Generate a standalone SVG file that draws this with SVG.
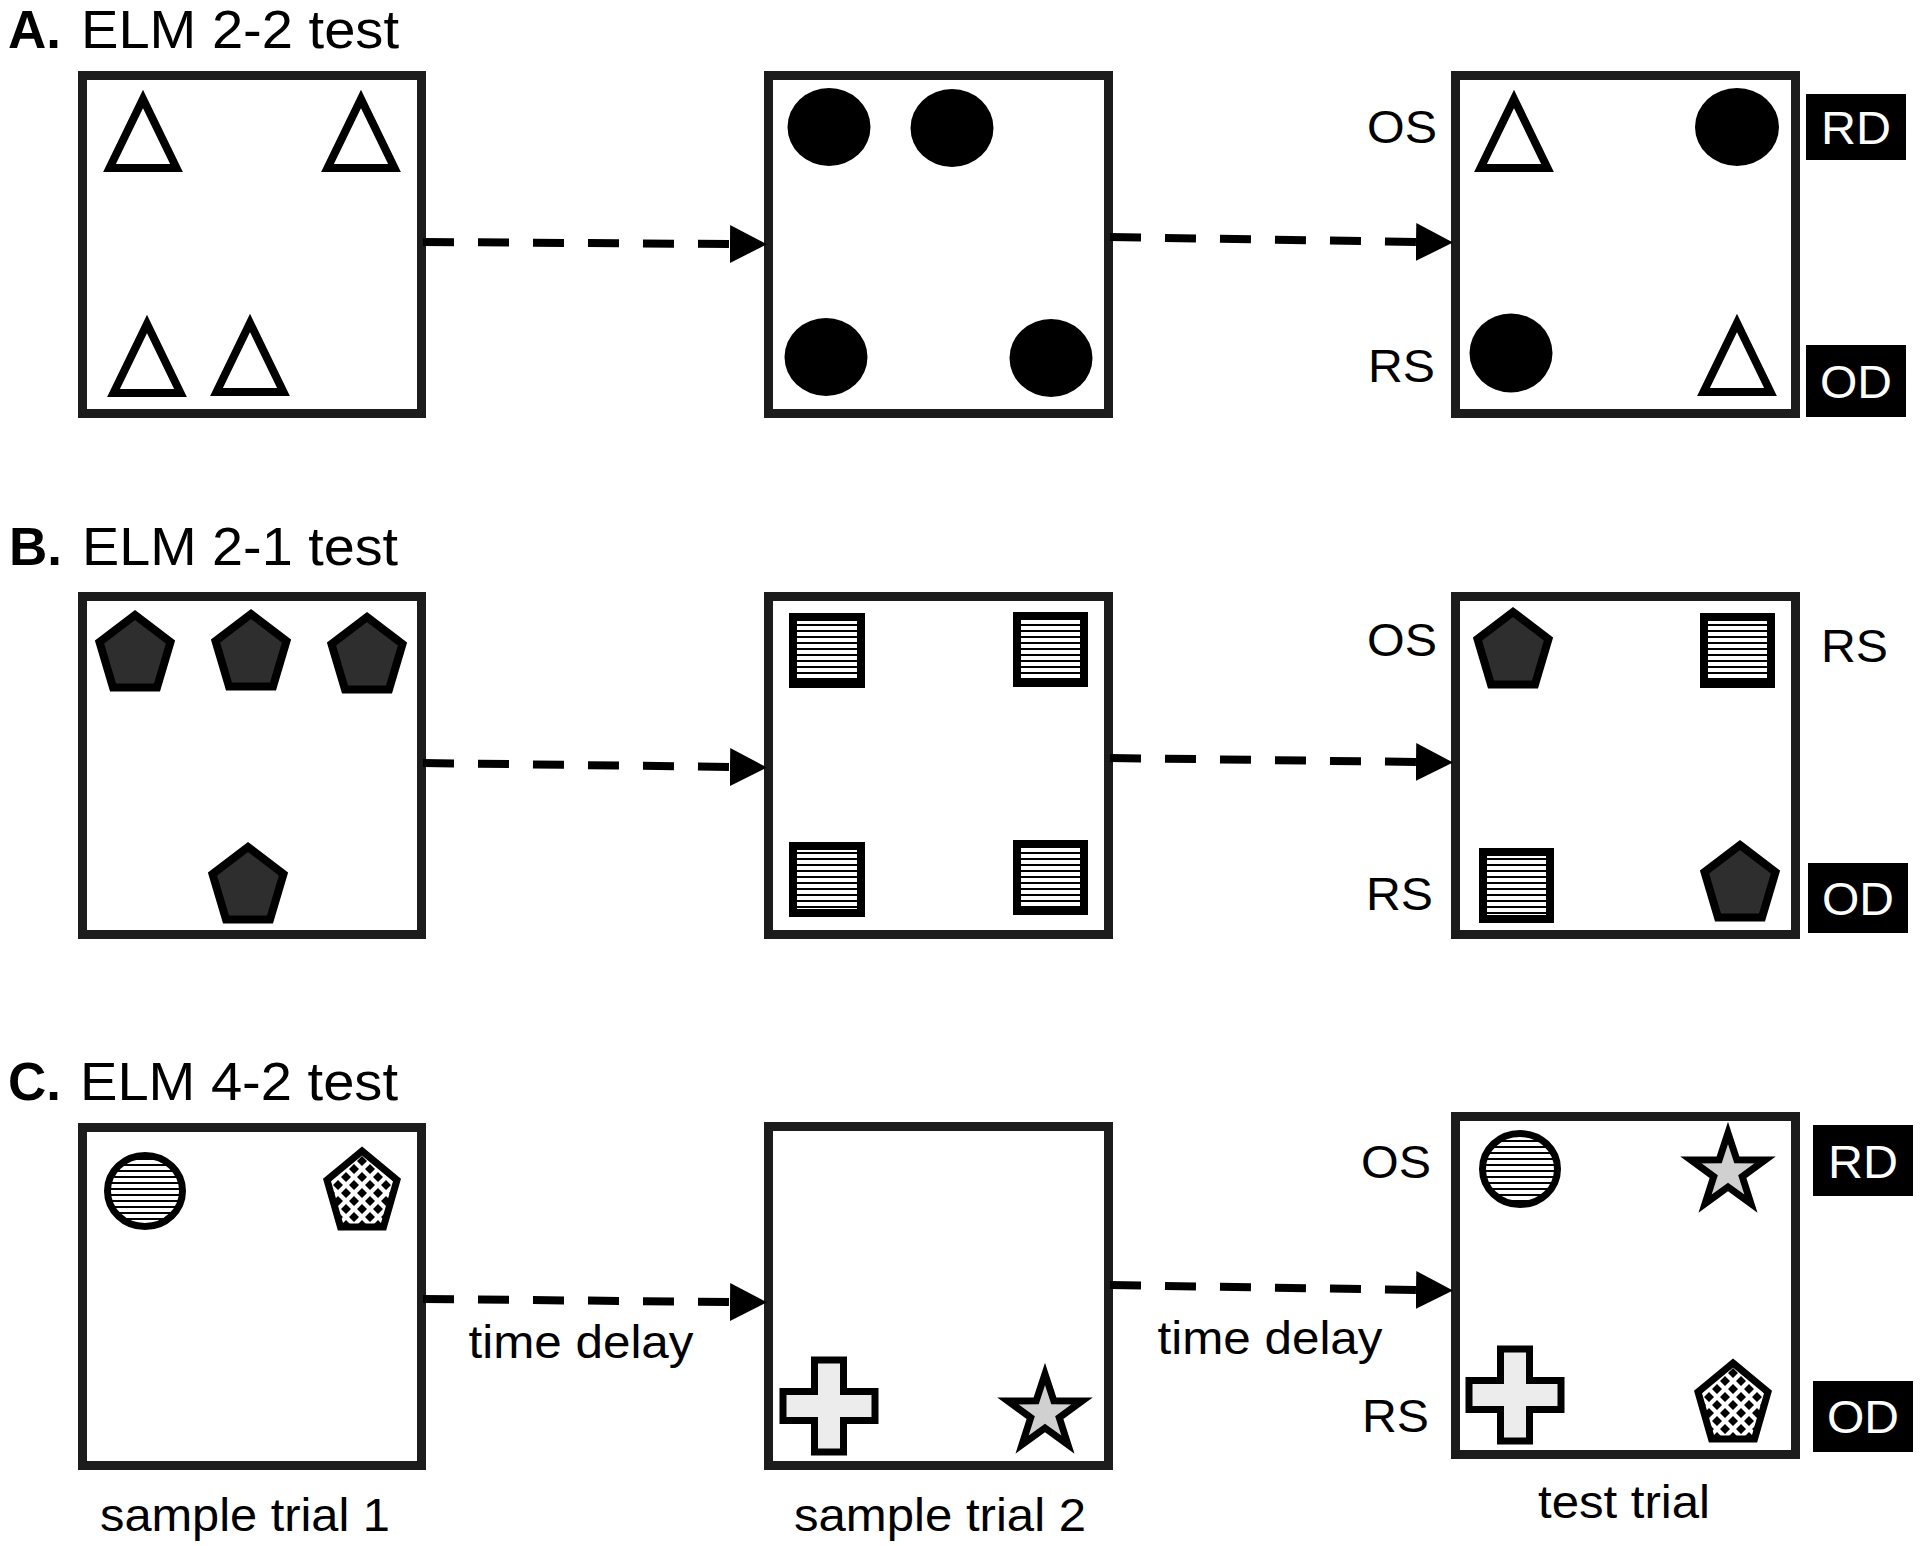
<svg xmlns="http://www.w3.org/2000/svg" xmlns:xlink="http://www.w3.org/1999/xlink" width="1920" height="1546" viewBox="0 0 1920 1546" font-family="'Liberation Sans', Arial, sans-serif">
<style>
.box{fill:#fff;stroke:#1c1c1c;stroke-width:9}
.tri{fill:none;stroke:#000;stroke-width:8;stroke-miterlimit:10}
.dot{fill:#000}
.pent{fill:#2e2e2e;stroke:#000;stroke-width:8;stroke-miterlimit:10}
.sq{fill:url(#hstripe);stroke:#000;stroke-width:8}
.scirc{fill:url(#hstripe);stroke:#000;stroke-width:7}
.cpent{fill:url(#checker);stroke:#000;stroke-width:7;stroke-miterlimit:10}
.cross{fill:#ececec;stroke:#000;stroke-width:7}
.star{fill:#d0d0d0;stroke:#000;stroke-width:7;stroke-miterlimit:10}
.conn{fill:none;stroke:#000;stroke-width:8;stroke-dasharray:31 24;marker-end:url(#arrow)}
text{font-family:"Liberation Sans",Arial,sans-serif;fill:#000}
.title{font-size:53px}
.lbl{font-size:46px}
.tag{fill:#000}
.tagt{font-size:46px;fill:#fff;text-anchor:middle}
</style>
<defs>
<pattern id="hstripe" patternUnits="userSpaceOnUse" width="10" height="6"><rect width="10" height="6" fill="#fff"/><rect width="10" height="2" fill="#000"/></pattern>
<pattern id="checker" patternUnits="userSpaceOnUse" width="16" height="16"><rect width="16" height="16" fill="#fff"/><path d="M8,3L13,8L8,13L3,8Z M0,-5L5,0L0,5L-5,0Z M16,-5L21,0L16,5L11,0Z M0,11L5,16L0,21L-5,16Z M16,11L21,16L16,21L11,16Z" fill="#000"/></pattern>
<marker id="arrow" markerUnits="userSpaceOnUse" markerWidth="37" markerHeight="38" refX="0" refY="19" orient="auto" viewBox="0 0 37 38"><path d="M0,0L37,19L0,38Z" fill="#000"/></marker>
<polygon id="triS" class="tri" points="0,-35 33.5,34 -33.5,34"/>
<path id="pentS" class="pent" d="M0,-40L35.5,-13L22,32.4L-22,32.4L-35.5,-13Z"/>
<path id="cpentS" class="cpent" d="M0,-42L35,-13L21.5,34L-21.5,34L-35,-13Z"/>
<path id="crossS" class="cross" d="M-14.5,-46h29v31.5h31.5v29h-31.5v31.5h-29v-31.5h-31.5v-29h31.5z"/>
<path id="starS" class="star" d="M0,-39L8.82,-12.14L37.09,-12.05L14.27,4.64L22.92,31.55L0,15L-22.92,31.55L-14.27,4.64L-37.09,-12.05L-8.82,-12.14Z"/>
</defs>
<rect width="1920" height="1546" fill="#fff"/>

<!-- Titles -->
<g id="titles">
<text class="title" x="8" y="48"><tspan font-weight="bold">A.</tspan></text>
<text class="title" x="81" y="48" textLength="318" lengthAdjust="spacingAndGlyphs">ELM 2-2 test</text>
<text class="title" x="9" y="565"><tspan font-weight="bold">B.</tspan></text>
<text class="title" x="82" y="565" textLength="316" lengthAdjust="spacingAndGlyphs">ELM 2-1 test</text>
<text class="title" x="8" y="1100"><tspan font-weight="bold">C.</tspan></text>
<text class="title" x="80" y="1100" textLength="318" lengthAdjust="spacingAndGlyphs">ELM 4-2 test</text>
</g>

<!-- Panel A -->
<g id="A1">
<rect class="box" x="82.5" y="75.5" width="339" height="338"/>
<use xlink:href="#triS" transform="translate(143,134)"/>
<use xlink:href="#triS" transform="translate(361,134)"/>
<use xlink:href="#triS" transform="translate(147,359)"/>
<use xlink:href="#triS" transform="translate(250,358)"/>
</g>
<g id="A2">
<rect class="box" x="768.5" y="75.5" width="340" height="338"/>
<ellipse class="dot" cx="829" cy="127" rx="41.5" ry="39"/>
<ellipse class="dot" cx="952" cy="128" rx="41.5" ry="39"/>
<ellipse class="dot" cx="826" cy="357" rx="41.5" ry="39"/>
<ellipse class="dot" cx="1051" cy="358" rx="41.5" ry="39"/>
</g>
<g id="A3">
<rect class="box" x="1455.5" y="75.5" width="340" height="338"/>
<use xlink:href="#triS" transform="translate(1514,134)"/>
<ellipse class="dot" cx="1737" cy="127" rx="42" ry="39"/>
<ellipse class="dot" cx="1511" cy="353" rx="41.5" ry="39.5"/>
<use xlink:href="#triS" transform="translate(1737,358)"/>
<text class="lbl" x="1437" y="143" text-anchor="end" textLength="70" lengthAdjust="spacingAndGlyphs">OS</text>
<text class="lbl" x="1435" y="382" text-anchor="end" textLength="67" lengthAdjust="spacingAndGlyphs">RS</text>
<rect class="tag" x="1806" y="94" width="100" height="66"/>
<text class="tagt" x="1856" y="144" textLength="70" lengthAdjust="spacingAndGlyphs">RD</text>
<rect class="tag" x="1806" y="345" width="100" height="72"/>
<text class="tagt" x="1856" y="398" textLength="72" lengthAdjust="spacingAndGlyphs">OD</text>
</g>

<!-- Panel B -->
<g id="B1">
<rect class="box" x="82.5" y="596.5" width="339" height="338"/>
<use xlink:href="#pentS" transform="translate(135,655)"/>
<use xlink:href="#pentS" transform="translate(251,654)"/>
<use xlink:href="#pentS" transform="translate(367,657)"/>
<use xlink:href="#pentS" transform="translate(248,887)"/>
</g>
<g id="B2">
<rect class="box" x="768.5" y="596.5" width="340" height="338"/>
<rect class="sq" x="793" y="617" width="68" height="67"/>
<rect class="sq" x="1017" y="616" width="67" height="67"/>
<rect class="sq" x="793" y="846" width="68" height="67"/>
<rect class="sq" x="1017" y="844" width="67" height="67"/>
</g>
<g id="B3">
<rect class="box" x="1455.5" y="596.5" width="340" height="338"/>
<use xlink:href="#pentS" transform="translate(1513,652)"/>
<rect class="sq" x="1704" y="617" width="67" height="67"/>
<rect class="sq" x="1483" y="852" width="67" height="67"/>
<use xlink:href="#pentS" transform="translate(1740,885)"/>
<text class="lbl" x="1437" y="656" text-anchor="end" textLength="70" lengthAdjust="spacingAndGlyphs">OS</text>
<text class="lbl" x="1433" y="910" text-anchor="end" textLength="67" lengthAdjust="spacingAndGlyphs">RS</text>
<text class="lbl" x="1821" y="662" textLength="67" lengthAdjust="spacingAndGlyphs">RS</text>
<rect class="tag" x="1808" y="863" width="100" height="70"/>
<text class="tagt" x="1858" y="915" textLength="72" lengthAdjust="spacingAndGlyphs">OD</text>
</g>

<!-- Panel C -->
<g id="C1">
<rect class="box" x="82.5" y="1127.5" width="339" height="338"/>
<ellipse class="scirc" cx="145" cy="1191" rx="37.5" ry="35.5"/>
<use xlink:href="#cpentS" transform="translate(362,1193)"/>
<text class="lbl" x="245" y="1531" text-anchor="middle" textLength="290" lengthAdjust="spacingAndGlyphs">sample trial 1</text>
</g>
<g id="C2">
<rect class="box" x="768.5" y="1126.5" width="340" height="339"/>
<use xlink:href="#crossS" transform="translate(829,1406)"/>
<use xlink:href="#starS" transform="translate(1045,1413)"/>
<text class="lbl" x="940" y="1531" text-anchor="middle" textLength="292" lengthAdjust="spacingAndGlyphs">sample trial 2</text>
</g>
<g id="C3">
<rect class="box" x="1455.5" y="1116.5" width="340" height="338"/>
<ellipse class="scirc" cx="1520" cy="1169" rx="37.5" ry="35.5"/>
<use xlink:href="#starS" transform="translate(1728,1172)"/>
<use xlink:href="#crossS" transform="translate(1515,1395)"/>
<use xlink:href="#cpentS" transform="translate(1733,1405)"/>
<text class="lbl" x="1431" y="1178" text-anchor="end" textLength="70" lengthAdjust="spacingAndGlyphs">OS</text>
<text class="lbl" x="1429" y="1432" text-anchor="end" textLength="67" lengthAdjust="spacingAndGlyphs">RS</text>
<rect class="tag" x="1813" y="1125" width="100" height="71"/>
<text class="tagt" x="1863" y="1178" textLength="70" lengthAdjust="spacingAndGlyphs">RD</text>
<rect class="tag" x="1813" y="1381" width="100" height="71"/>
<text class="tagt" x="1863" y="1433" textLength="72" lengthAdjust="spacingAndGlyphs">OD</text>
<text class="lbl" x="1624" y="1518" text-anchor="middle" textLength="172" lengthAdjust="spacingAndGlyphs">test trial</text>
</g>

<!-- Connectors -->
<g id="connectors">
<line class="conn" x1="423" y1="242" x2="730" y2="244"/>
<line class="conn" x1="1110" y1="237" x2="1416" y2="242"/>
<line class="conn" x1="423" y1="763" x2="730" y2="767"/>
<line class="conn" x1="1110" y1="758" x2="1416" y2="762"/>
<line class="conn" x1="423" y1="1299" x2="730" y2="1302"/>
<line class="conn" x1="1110" y1="1285" x2="1416" y2="1290"/>
<text class="lbl" x="581" y="1358" text-anchor="middle" textLength="225" lengthAdjust="spacingAndGlyphs">time delay</text>
<text class="lbl" x="1270" y="1354" text-anchor="middle" textLength="225" lengthAdjust="spacingAndGlyphs">time delay</text>
</g>
</svg>
